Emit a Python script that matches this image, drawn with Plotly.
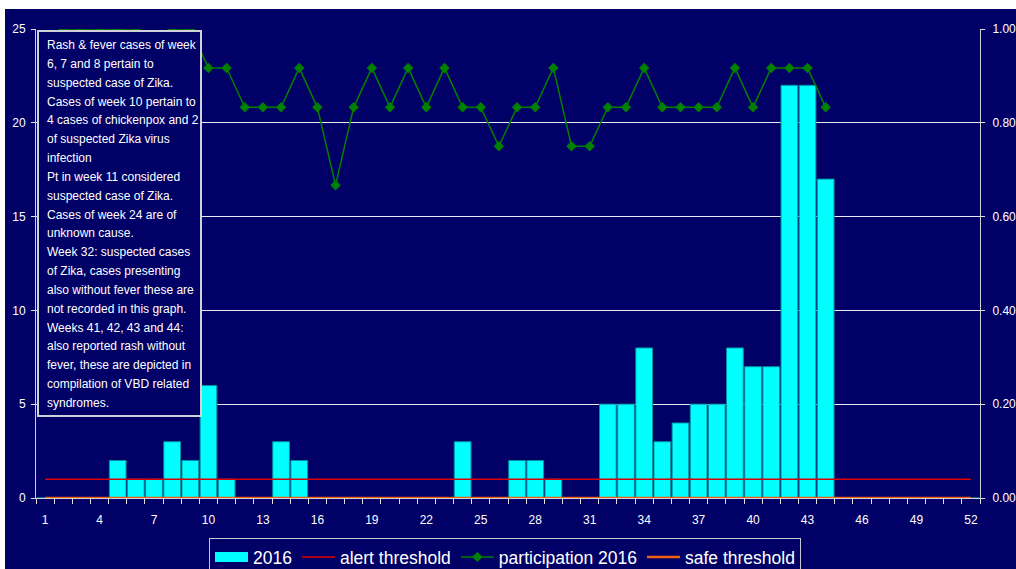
import plotly.graph_objects as go

# ---------------- data ----------------
weeks = list(range(1, 53))
cases_2016 = [0, 0, 0, 0, 2, 1, 1, 3, 2, 6, 1, 0, 0, 3, 2, 0, 0, 0, 0, 0,
              0, 0, 0, 3, 0, 0, 2, 2, 1, 0, 0, 5, 5, 8, 3, 4, 5, 5, 8, 7,
              7, 22, 22, 17, 0, 0, 0, 0, 0, 0, 0, 0]
participation_2016 = [None, 1.0, 1.0, 1.0, 1.0, 1.0, 0.917, 1.0, 1.0, 0.917,
                      0.917, 0.833, 0.833, 0.833, 0.917, 0.833, 0.667, 0.833, 0.917, 0.833,
                      0.917, 0.833, 0.917, 0.833, 0.833, 0.75, 0.833, 0.833, 0.917, 0.75,
                      0.75, 0.833, 0.833, 0.917, 0.833, 0.833, 0.833, 0.833, 0.917, 0.833,
                      0.917, 0.917, 0.917, 0.833, None, None, None, None, None, None,
                      None, None]
alert_threshold = [1] * 52
safe_threshold = [0] * 52
x_tick_labels = list(range(1, 53, 3))
note_lines = [
    "Rash & fever cases of week",
    "6, 7 and 8 pertain to",
    "suspected case of Zika.",
    "Cases of week 10 pertain to",
    "4 cases of chickenpox and 2",
    "of suspected Zika virus",
    "infection",
    "Pt in week 11 considered",
    "suspected case of Zika.",
    "Cases of week 24 are of",
    "unknown cause.",
    "Week 32: suspected cases",
    "of Zika, cases presenting",
    "also without fever these are",
    "not recorded in this graph.",
    "Weeks 41, 42, 43 and 44:",
    "also reported rash without",
    "fever, these are depicted in",
    "compilation of VBD related",
    "syndromes.",
]

# ---------------- layout geometry (page pixels) ----------------
W, H = 1016, 569
PL, PR, PT, PB = 36, 980, 29, 498          # plot area in page pixels
NAVY = "#000066"
TXT = "#FFFFFF"
FONT = "Liberation Sans, Arial, sans-serif"


def px_x(px):
    return (px - PL) / (PR - PL)


def px_y(py):
    return (PB - py) / (PB - PT)


fig = go.Figure()

fig.add_trace(go.Bar(x=weeks, y=cases_2016, name="2016", showlegend=False,
                     marker=dict(color="#00FFFF", line=dict(color="#0090A0", width=1))))
# legend entry for the bars (wide swatch)
fig.add_trace(go.Scatter(x=[None], y=[None], mode="lines", name="2016",
                         line=dict(color="#00FFFF", width=14)))
fig.add_trace(go.Scatter(x=weeks, y=alert_threshold, mode="lines", name="alert threshold",
                         line=dict(color="#DD0000", width=1.5)))
fig.add_trace(go.Scatter(x=weeks, y=participation_2016, mode="lines+markers",
                         name="participation 2016", yaxis="y2",
                         line=dict(color="#008000", width=1.5),
                         marker=dict(symbol="diamond", size=8, color="#008000")))
fig.add_trace(go.Scatter(x=weeks, y=safe_threshold, mode="lines", name="safe threshold",
                         line=dict(color="#F06010", width=2.5)))

shapes = [
    # navy chart background leaving a thin white strip at top and left
    dict(type="rect", xref="paper", yref="paper", layer="below",
         x0=px_x(5), x1=px_x(W + 10), y0=px_y(H + 10), y1=px_y(9),
         fillcolor=NAVY, line=dict(width=0)),
    # note box
    dict(type="rect", xref="paper", yref="paper", layer="above",
         x0=px_x(38), x1=px_x(201), y0=px_y(416), y1=px_y(31),
         fillcolor=NAVY, line=dict(color="#D0D0D8", width=2)),
]

annotations = []
for i, line in enumerate(note_lines):
    annotations.append(dict(
        text=line, xref="paper", yref="paper", x=px_x(45), y=px_y(45 + i * 18.84),
        xanchor="left", yanchor="middle", showarrow=False,
        font=dict(family=FONT, size=12, color=TXT)))

fig.update_layout(
    width=W, height=H, autosize=False,
    margin=dict(l=PL, r=W - PR, t=PT, b=H - PB, pad=0, autoexpand=False),
    paper_bgcolor="white", plot_bgcolor=NAVY,
    bargap=0.08,
    font=dict(family=FONT, size=12, color=TXT),
    shapes=shapes, annotations=annotations,
    showlegend=True,
    legend=dict(orientation="h", x=px_x(209), y=px_y(538), xanchor="left", yanchor="top",
                bgcolor=NAVY, bordercolor="#C8C8D0", borderwidth=1,
                font=dict(family=FONT, size=17.5, color=TXT),
                itemwidth=33, traceorder="normal"),
    xaxis=dict(range=[0.5, 52.5], tickmode="array", tickvals=x_tick_labels,
               ticktext=[str(v) for v in x_tick_labels], automargin=False,
               ticks="outside", ticklen=5, tickcolor=NAVY, ticklabelstandoff=6,
               minor=dict(tick0=0.5, dtick=1, ticks="outside", ticklen=5, tickcolor="#E0E0E0"),
               showline=True, linecolor="#D0D0D8", linewidth=1,
               showgrid=False, zeroline=False,
               tickfont=dict(family=FONT, size=12, color=TXT)),
    yaxis=dict(range=[0, 25], dtick=5, tickmode="linear", tick0=0, automargin=False,
               ticks="outside", ticklen=4, tickcolor="#E0E0E0", ticklabelstandoff=3,
               showline=True, linecolor="#D0D0D8", linewidth=1,
               showgrid=True, gridcolor="#E8E8F0", gridwidth=1, zeroline=False,
               tickfont=dict(family=FONT, size=12, color=TXT)),
    yaxis2=dict(range=[0, 1], dtick=0.2, tick0=0, tickmode="linear", tickformat=".2f",
                overlaying="y", side="right", automargin=False,
                ticks="outside", ticklen=4, tickcolor="#E0E0E0", ticklabelstandoff=5,
                showline=True, linecolor="#D0D0D8", linewidth=1,
                showgrid=False, zeroline=False,
                tickfont=dict(family=FONT, size=12, color=TXT)),
)

fig.write_html(
    "out.html",
    config={"displayModeBar": False},
    post_script=("document.body.style.margin='0';"
                 "document.body.style.overflow='hidden';"
                 "document.documentElement.style.overflow='hidden';"),
)
